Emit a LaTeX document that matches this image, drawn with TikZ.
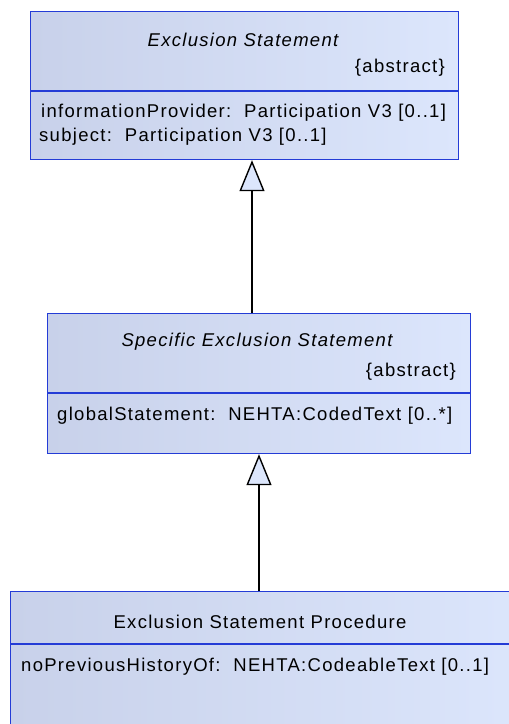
\documentclass[tikz,border=0pt]{standalone}
\usepackage{fontspec}
\setmainfont[LetterSpace=7]{Liberation Sans}
\usepackage{tikz}
\usetikzlibrary{arrows.meta}
\definecolor{umlBorder}{RGB}{36, 60, 214}
\definecolor{umlLeft}{RGB}{200, 209, 234}
\definecolor{umlRight}{RGB}{220, 230, 252}

\begin{document}
\begin{tikzpicture}[
  x=1pt, y=-1pt,
  every node/.style={font=\fontsize{18.5}{23}\selectfont, inner sep=0pt},
  classbox/.style={draw=umlBorder, line width=1.2pt, left color=umlLeft, middle color=umlRight, right color=umlRight, anchor=north west},
  divider/.style={draw=umlBorder, line width=1.2pt},
  generalize/.style={-{Triangle[length=31pt, width=25pt, fill=umlRight]}, line width=1.4pt, black}
]
  \clip (0,0) rectangle (509,724);

  % classes
  \node[classbox, minimum width=428pt, minimum height=148pt] (excl) at (30,11) {};
  \node[classbox, minimum width=423pt, minimum height=140pt] (specific) at (47,313) {};
  \node[classbox, minimum width=520pt, minimum height=150pt] (proc) at (10,591) {};

  \draw[divider] (excl.west |- 0,91) -- (excl.east |- 0,91);
  \draw[divider] (specific.west |- 0,393) -- (specific.east |- 0,393);
  \draw[divider] (proc.west |- 0,644) -- (proc.east |- 0,644);

  % texts
  \node (exclName) at (243,40) {\itshape Exclusion Statement};
  \node[anchor=east] (exclAbs) at (445,68) {\{abstract\}};
  \node[anchor=west] (exclAttrA) at (41,113) {informationProvider:\ \ Participation V3 [0..1]};
  \node[anchor=west] (exclAttrB) at (39,137) {subject:\ \ Participation V3 [0..1]};

  \node (specName) at (257,342) {\itshape Specific Exclusion Statement};
  \node[anchor=east] (specAbs) at (456,372) {\{abstract\}};
  \node[anchor=west] (specAttr) at (57,416) {globalStatement:\ \ NEHTA:CodedText [0..*]};

  \node (procName) at (260,622) {Exclusion Statement Procedure};
  \node[anchor=west] (procAttr) at (21,667) {noPreviousHistoryOf:\ \ NEHTA:CodeableText [0..1]};

  % generalizations
  \draw[generalize] (specific.north -| 252,0) -- (excl.south -| 252,0);
  \draw[generalize] (proc.north -| 259,0) -- (specific.south -| 259,0);
\end{tikzpicture}
\end{document}
